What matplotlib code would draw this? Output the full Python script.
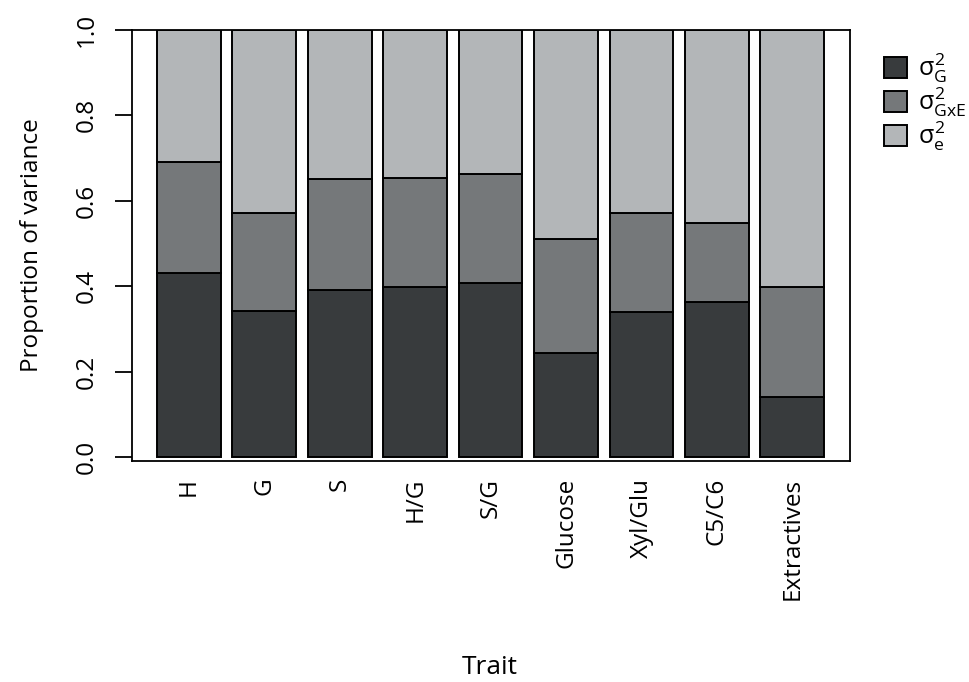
import matplotlib
matplotlib.use("Agg")
import matplotlib.pyplot as plt
from matplotlib.patches import Patch
import numpy as np

plt.rcParams['font.family'] = ['Open Sans', 'DejaVu Sans']
plt.rcParams['mathtext.fontset'] = 'custom'
plt.rcParams['mathtext.rm'] = 'Open Sans'
plt.rcParams['mathtext.it'] = 'Open Sans'
plt.rcParams['mathtext.sf'] = 'Open Sans'

traits = ["H", "G", "S", "H/G", "S/G", "Glucose", "Xyl/Glu", "C5/C6", "Extractives"]
var_g = [0.431, 0.342, 0.391, 0.399, 0.407, 0.243, 0.340, 0.362, 0.140]
var_gxe = [0.260, 0.229, 0.259, 0.254, 0.255, 0.267, 0.231, 0.186, 0.259]
var_e = [1 - a - b for a, b in zip(var_g, var_gxe)]
y_ticks = [0.0, 0.2, 0.4, 0.6, 0.8, 1.0]

colors = ["#383b3d", "#75787a", "#b3b6b8"]
labels = [r"$\sigma^2_{\mathrm{G}}$", r"$\sigma^2_{\mathrm{GxE}}$", r"$\sigma^2_{\mathrm{e}}$"]

fig = plt.figure(figsize=(9.69, 6.82), dpi=100)
ax = fig.add_axes([132 / 969, 1 - 461 / 682, (850 - 132) / 969, (461 - 30) / 682])

x = np.arange(len(traits))
bottom = np.zeros(len(traits))
for vals, c in zip([var_g, var_gxe, var_e], colors):
    ax.bar(x, vals, bottom=bottom, width=0.845, color=c, edgecolor="black", linewidth=1.4)
    bottom += np.array(vals)

ax.set_xlim(-0.755, 8.765)
ax.set_ylim(-0.0094, 1.0)
ax.set_yticks(y_ticks)
ax.set_yticklabels([f"{t:.1f}" for t in y_ticks], rotation=90, va="center", fontsize=17.5)
ax.tick_params(axis="y", length=12, width=1.3, pad=12)
ax.set_xticks(x)
ax.set_xticklabels(traits, rotation=90, fontsize=17.5)
ax.tick_params(axis="x", length=0, pad=12)
for s in ax.spines.values():
    s.set_linewidth(1.3)

ax.set_ylabel("Proportion of variance", fontsize=17.5, labelpad=22)
fig.text(490 / 969, 1 - 668 / 682, "Trait", ha="center", va="center", fontsize=19)

handles = [Patch(facecolor=c, edgecolor="black", linewidth=1.4) for c in colors]
leg = fig.legend(handles, labels, loc="upper left", bbox_to_anchor=(874 / 969, 1 - 42 / 682),
                 frameon=False, fontsize=18, handlelength=0.9, handleheight=0.9,
                 labelspacing=0.02, handletextpad=0.45, borderaxespad=0)

fig.savefig("out.png", dpi=100)
